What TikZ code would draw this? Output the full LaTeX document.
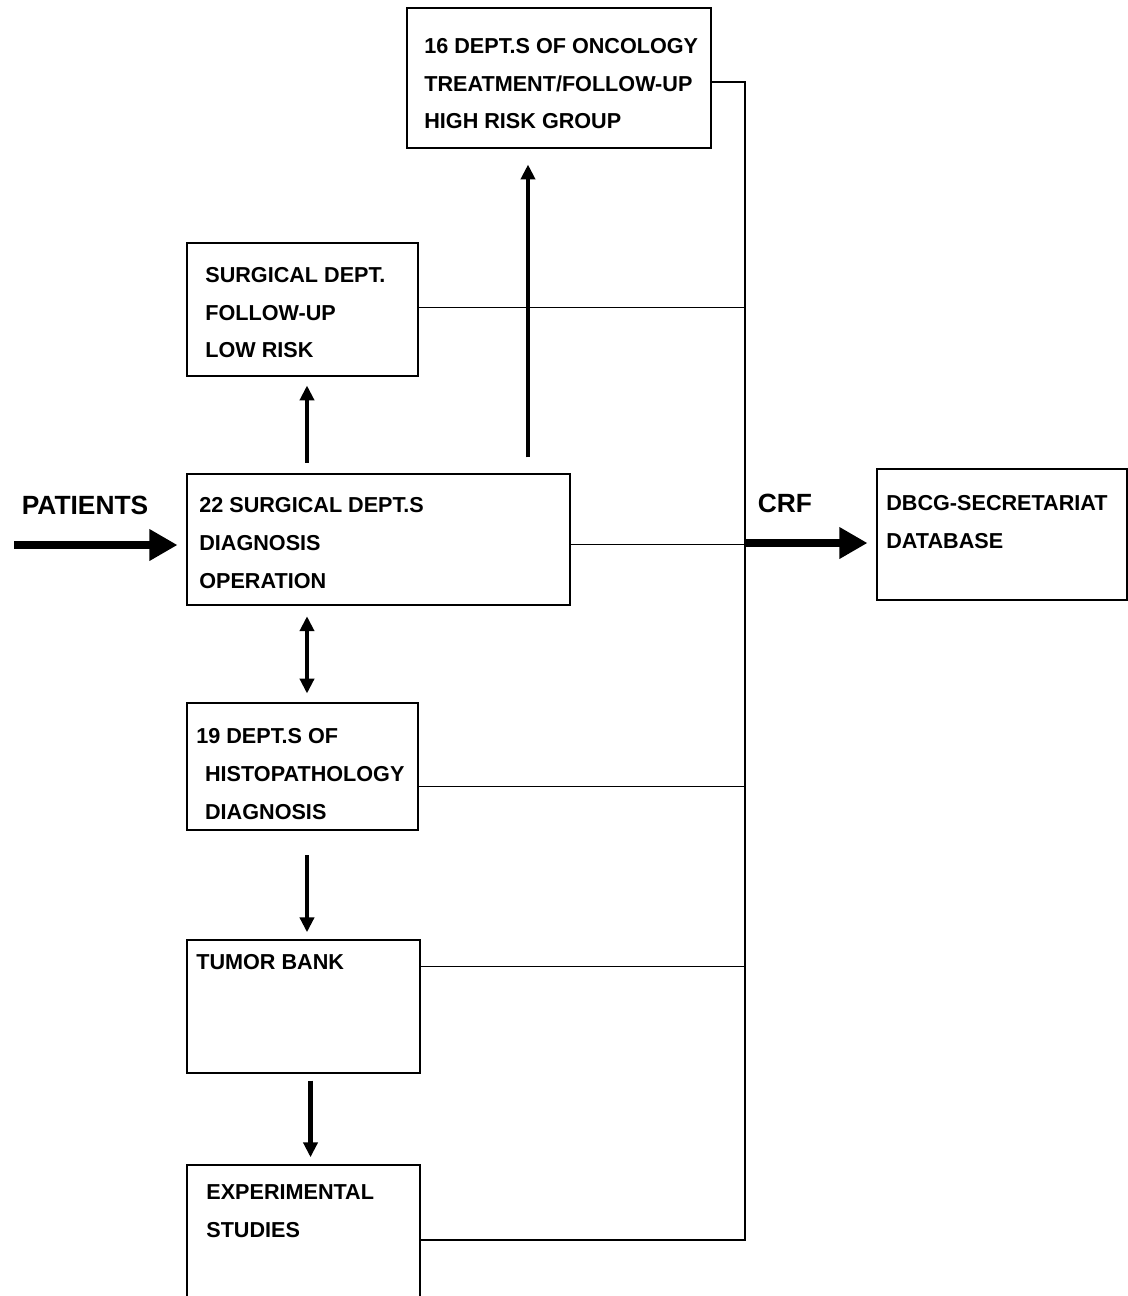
\documentclass[tikz,border=0pt]{standalone}
\usepackage{fontspec}
\setmainfont{Liberation Sans}
\usetikzlibrary{arrows.meta, fit, calc}

\begin{document}
\begin{tikzpicture}[
  x=0.02cm, y=-0.02cm,
  box/.style={draw, inner sep=0pt, line width=0.8pt},
  txt/.style={anchor=north west, inner sep=0pt, align=left,
    font=\fontsize{12.3}{21.5}\selectfont\bfseries},
  bigtxt/.style={inner sep=0pt, font=\fontsize{15}{18}\selectfont\bfseries},
  link/.style={line width=0.8pt},
  flow/.style={-{Triangle[length=8.5pt, width=8pt]}, line width=2.4pt},
  twoway/.style={{Triangle[length=8.5pt, width=8pt]}-{Triangle[length=8.5pt, width=8pt]}, line width=2.2pt},
  fat/.style={-{Triangle[length=16pt, width=17pt]}, line width=4.6pt},
]
\useasboundingbox (0,0) rectangle (1128,1296);

% ----- boxes (pixel grid of the page) -----
\node[box, fit={(407,8) (711,148)}] (onco) {};
\node[box, fit={(187,243) (418,376)}] (surg) {};
\node[box, fit={(187,474) (570,605)}] (main) {};
\node[box, fit={(187,703) (418,830)}] (histo) {};
\node[box, fit={(187,940) (420,1073)}] (tumor) {};
\node[box, fit={(187,1165) (420,1310)}] (exper) {};
\node[box, fit={(877,469) (1127,600)}] (dbcg) {};

% ----- texts -----
\node[txt] (oncotxt) at (424,38) {16 DEPT.S OF ONCOLOGY\\TREATMENT/FOLLOW-UP\\HIGH RISK GROUP};
\node[txt] (surgtxt) at (205,267) {SURGICAL DEPT.\\FOLLOW-UP\\LOW RISK};
\node[txt] (maintxt) at (199,497) {22 SURGICAL DEPT.S\\DIAGNOSIS\\OPERATION};
\node[txt] (histotxt) at (196,728) {19 DEPT.S OF\\\hspace*{5pt}HISTOPATHOLOGY\\\hspace*{5pt}DIAGNOSIS};
\node[txt] (tumortxt) at (196,954) {TUMOR BANK};
\node[txt] (expertxt) at (206,1184) {EXPERIMENTAL\\STUDIES};
\node[txt] (dbcgtxt) at (886,495) {DBCG-SECRETARIAT\\DATABASE};

\node[bigtxt] (patients) at (85,505) {PATIENTS};
\node[bigtxt] (crf) at (785,503) {CRF};

% ----- helper points -----
\coordinate (bustop) at (745,82);
\coordinate (busbot) at (745,1240);
\coordinate (crfpt) at (745,543);
\coordinate (inpt) at (14,545);
\coordinate (upx) at (528,0);
\coordinate (lowx) at (307,0);

% ----- lines to the CRF bus -----
\draw[link] (onco.east |- bustop) -- (bustop) -- (busbot) -- (busbot -| exper.east);
\draw[link] ([shift={(0,-2)}]surg.east) -- ([shift={(0,-2)}]surg.east -| bustop);
\draw[link] ([shift={(0,5)}]main.east) -- ([shift={(0,5)}]main.east -| bustop);
\draw[link] ([shift={(0,20)}]histo.east) -- ([shift={(0,20)}]histo.east -| bustop);
\draw[link] ([shift={(0,-40)}]tumor.east) -- ([shift={(0,-40)}]tumor.east -| bustop);

% ----- arrows -----
\draw[fat, shorten >=5pt] (inpt) -- (inpt -| main.west);
\draw[fat, shorten >=5pt] (crfpt) -- (crfpt -| dbcg.west);
\draw[flow, shorten <=9pt, shorten >=9pt] (main.north -| upx) -- (onco.south -| upx);
\draw[flow, shorten <=6pt, shorten >=5pt] (main.north -| lowx) -- (surg.south -| lowx);
\draw[twoway, shorten <=6pt, shorten >=5pt] (main.south -| lowx) -- (histo.north -| lowx);
\draw[flow, shorten <=14pt, shorten >=4pt] (histo.south -| lowx) -- (tumor.north -| lowx);
\draw[flow, shorten <=4pt, shorten >=4pt] ([xshift=2pt]tumor.south -| lowx) -- ([xshift=2pt]exper.north -| lowx);

\end{tikzpicture}
\end{document}
